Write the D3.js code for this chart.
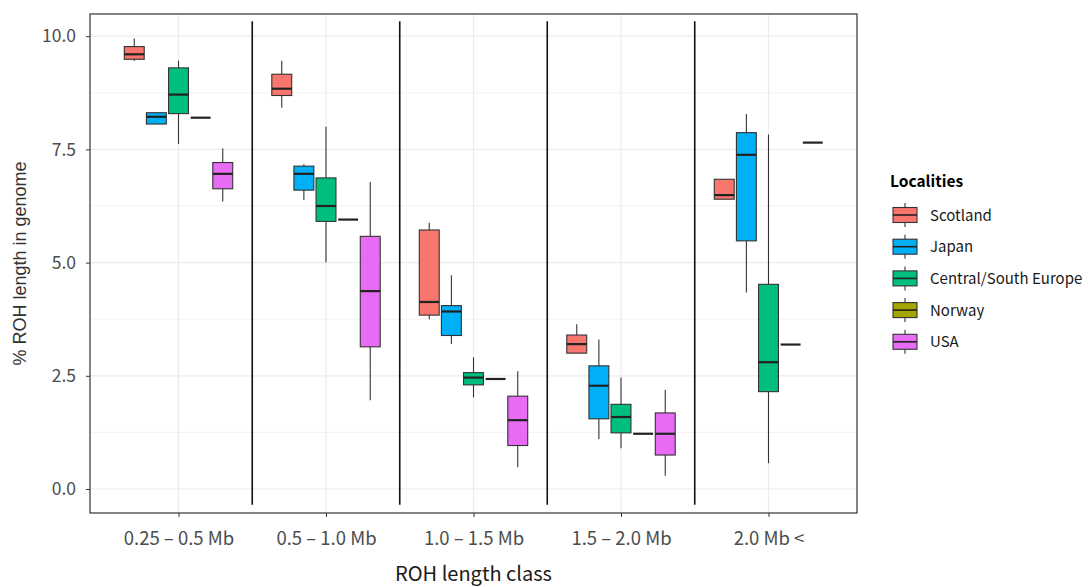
<!DOCTYPE html>
<html><head><meta charset="utf-8">
<script src="https://cdn.jsdelivr.net/npm/d3@7"></script>
<style>body{margin:0;background:#fff}svg{display:block}text{font-family:"Noto Sans CJK JP","Noto Sans",sans-serif}</style>
</head><body><svg id="c" width="1088" height="587"></svg>
<script>
const classes = ["0.25 – 0.5 Mb","0.5 – 1.0 Mb","1.0 – 1.5 Mb","1.5 – 2.0 Mb","2.0 Mb <"];
const localities = ["Scotland","Japan","Central/South Europe","Norway","USA"];
const colors = ["#F8766D","#00B0F6","#00BF7D","#A3A500","#E76BF3"];
const yTicks = [0, 2.5, 5, 7.5, 10];
// [lowerWhisker, Q1, median, Q3, upperWhisker] per class, per locality
const scotland = [[9.45,9.49,9.60,9.77,9.95],[8.42,8.69,8.84,9.16,9.46],[3.75,3.84,4.13,5.72,5.88],[3.00,3.00,3.20,3.40,3.64],[6.40,6.40,6.49,6.84,6.84]];
const japan    = [[8.06,8.06,8.22,8.31,8.31],[6.38,6.60,6.96,7.13,7.17],[3.20,3.39,3.92,4.05,4.72],[1.10,1.55,2.28,2.72,3.30],[4.34,5.48,7.38,7.87,8.28]];
const csEurope = [[7.62,8.29,8.71,9.30,9.46],[5.01,5.91,6.25,6.87,8.00],[2.02,2.30,2.46,2.57,2.91],[0.90,1.24,1.59,1.87,2.46],[0.57,2.15,2.80,4.52,7.83]];
const norway   = [[8.20,8.20,8.20,8.20,8.20],[5.95,5.95,5.95,5.95,5.95],[2.43,2.43,2.43,2.43,2.43],[1.22,1.22,1.22,1.22,1.22],[3.19,3.19,3.19,3.19,3.19]];
const usa      = [[6.35,6.63,6.96,7.21,7.52],[1.96,3.14,4.37,5.58,6.78],[0.48,0.96,1.52,2.05,2.60],[0.29,0.75,1.22,1.68,2.19],[7.65,7.65,7.65,7.65,7.65]];
const seriesStats = [scotland, japan, csEurope, norway, usa];

const svg = d3.select("#c");
const L=90, R=857, T=14, B=513;
const x = d3.scalePoint().domain(classes).range([L,R]).padding(0.6);
const step = x.step();
const sub = d3.scaleBand().domain(localities).range([-0.375*step, 0.375*step]);
const bw = sub.bandwidth()*0.9;
const y = d3.scaleLinear().domain([-0.53,10.49]).range([B,T]);
const dark = "#333333";

// grid
const g = svg.append("g");
const minor = [1.25,3.75,6.25,8.75];
g.selectAll(".mn").data(minor).join("line").attr("x1",L).attr("x2",R)
 .attr("y1",d=>y(d)).attr("y2",d=>y(d)).attr("stroke","#f2f2f2").attr("stroke-width",1);
g.selectAll(".mj").data(yTicks).join("line").attr("x1",L).attr("x2",R)
 .attr("y1",d=>y(d)).attr("y2",d=>y(d)).attr("stroke","#ebebeb").attr("stroke-width",1.2);
g.selectAll(".vx").data(classes).join("line").attr("y1",T).attr("y2",B)
 .attr("x1",d=>x(d)).attr("x2",d=>x(d)).attr("stroke","#ebebeb").attr("stroke-width",1.2);

// separators
const seps = classes.slice(0,-1).map((c,i)=>(x(c)+x(classes[i+1]))/2);
svg.selectAll(".sep").data(seps).join("line").attr("x1",d=>d).attr("x2",d=>d)
 .attr("y1",y(-0.35)).attr("y2",y(10.33)).attr("stroke","#111").attr("stroke-width",1.6);

// boxes
localities.forEach((loc,li)=>{
  classes.forEach((cls,ci)=>{
    const s = seriesStats[li][ci];
    const cx = x(cls)+sub(loc)+sub.bandwidth()/2;
    const gg = svg.append("g");
    gg.append("line").attr("x1",cx).attr("x2",cx).attr("y1",y(s[4])).attr("y2",y(s[3])).attr("stroke",dark).attr("stroke-width",1.1);
    gg.append("line").attr("x1",cx).attr("x2",cx).attr("y1",y(s[1])).attr("y2",y(s[0])).attr("stroke",dark).attr("stroke-width",1.1);
    gg.append("rect").attr("x",cx-bw/2).attr("width",bw).attr("y",y(s[3])).attr("height",Math.max(0,y(s[1])-y(s[3])))
      .attr("fill",colors[li]).attr("stroke",dark).attr("stroke-width",1.1);
    gg.append("line").attr("x1",cx-bw/2).attr("x2",cx+bw/2).attr("y1",y(s[2])).attr("y2",y(s[2])).attr("stroke","#222").attr("stroke-width",2.2);
  });
});

// panel border
svg.append("rect").attr("x",L).attr("y",T).attr("width",R-L).attr("height",B-T).attr("fill","none").attr("stroke","#333").attr("stroke-width",1.2);

// axes
const ya = svg.append("g").attr("transform",`translate(${L},0)`)
  .call(d3.axisLeft(y).tickValues(yTicks).tickFormat(d3.format(".1f")).tickSize(4).tickPadding(10));
const xa = svg.append("g").attr("transform",`translate(0,${B})`)
  .call(d3.axisBottom(x).tickSize(4).tickPadding(15));
[ya,xa].forEach(a=>{a.select(".domain").remove();a.selectAll("line").attr("stroke","#333");
  a.selectAll("text").attr("fill","#4d4d4d");});
ya.selectAll("text").style("font-size","17.5px");
xa.selectAll("text").style("font-size","18.5px");

svg.append("text").attr("x",(L+R)/2).attr("y",581).attr("text-anchor","middle").attr("fill","#1a1a1a").style("font-size","20px").text("ROH length class");
svg.append("text").attr("transform",`translate(26,${(T+B)/2}) rotate(-90)`).attr("text-anchor","middle").attr("fill","#333")
  .style("font-family","'Liberation Sans',Arial,sans-serif").style("font-size","18px").text("% ROH length in genome");

// legend
const lg = svg.append("g");
lg.append("text").attr("x",890).attr("y",187).style("font-size","15.5px").style("font-weight","bold").attr("fill","#000").text("Localities");
localities.forEach((loc,i)=>{
  const cy = 215 + i*31.7;
  const kx = 893, kw = 24, kh = 15;
  lg.append("line").attr("x1",kx+kw/2).attr("x2",kx+kw/2).attr("y1",cy-12).attr("y2",cy+12).attr("stroke",dark).attr("stroke-width",1.1);
  lg.append("rect").attr("x",kx).attr("y",cy-kh/2).attr("width",kw).attr("height",kh).attr("fill",colors[i]).attr("stroke",dark).attr("stroke-width",1.1);
  lg.append("line").attr("x1",kx).attr("x2",kx+kw).attr("y1",cy).attr("y2",cy).attr("stroke","#222").attr("stroke-width",1.6);
  lg.append("text").attr("x",930).attr("y",cy+5.5).style("font-size","15px").attr("fill","#1a1a1a").text(loc);
});
</script></body></html>
